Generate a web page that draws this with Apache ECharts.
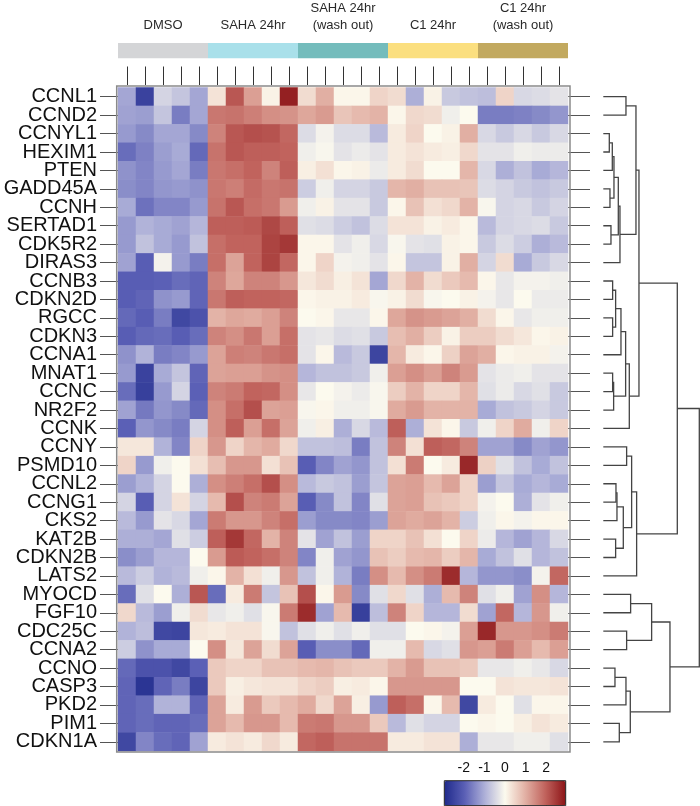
<!DOCTYPE html>
<html><head><meta charset="utf-8">
<script src="https://cdn.jsdelivr.net/npm/echarts@6/dist/echarts.min.js"></script>
<style>html,body{margin:0;padding:0;background:#fff}#c{width:700px;height:806px}</style>
</head><body><div id="c"></div>
<script>
// ---- data ----
const genes = ['CCNL1','CCND2','CCNYL1','HEXIM1','PTEN','GADD45A','CCNH','SERTAD1','CDK5R2','DIRAS3',
  'CCNB3','CDKN2D','RGCC','CDKN3','CCNA1','MNAT1','CCNC','NR2F2','CCNK','CCNY','PSMD10','CCNL2',
  'CCNG1','CKS2','KAT2B','CDKN2B','LATS2','MYOCD','FGF10','CDC25C','CCNA2','CCNO','CASP3','PKD2','PIM1','CDKN1A'];
const groups = ['DMSO','SAHA 24hr','SAHA 24hr\n(wash out)','C1 24hr','C1 24hr\n(wash out)'];
const groupColors = ['#d4d5d7','#a9e0ea','#74bcbc','#fbdf7f','#c2a95f'];
const replicates = ['r1','r2','r3','r4','r5'];
// z-scores per gene (rows) and replicate (5 columns) for each group
const dmso = [
 [-1.1,-2.5,-0.5,-0.7,-1.1],[-1.15,-1.2,-0.7,-1.6,-1.1],[-1.25,-1.45,-1.1,-1.1,-1.45],[-1.8,-1.55,-1.2,-1.05,-1.85],
 [-1.35,-1.5,-1.25,-1.1,-1.6],[-1.4,-1.5,-1.3,-1.25,-1.35],[-1.05,-1.75,-1.5,-1.5,-1.25],[-1.25,-0.95,-1.05,-1.15,-0.9],
 [-1.25,-0.75,-1.05,-1.25,-0.75],[-1.15,-2.0,-0.1,-1.25,-1.6],[-2.0,-2.0,-1.95,-1.8,-1.9],[-2.0,-1.9,-1.35,-1.25,-1.9],
 [-1.85,-2.0,-1.6,-2.4,-2.2],[-2.0,-1.85,-1.8,-2.0,-1.8],[-1.35,-0.95,-1.6,-1.5,-1.25],[-1.25,-2.5,-1.05,-0.7,-1.9],
 [-1.8,-2.55,-1.25,-0.5,-1.95],[-1.15,-1.65,-1.3,-1.45,-1.85],[-1.95,-1.3,-1.45,-1.6,-0.5],[0.25,0.25,-0.95,-1.5,0.5],
 [0.5,-1.25,-0.15,0.0,0.35],[-1.2,-0.95,-0.5,0.0,-1.0],[-0.5,-2.0,-0.5,0.3,-0.5],[-0.85,-1.25,-0.3,-0.45,-1.1],
 [-1.0,-1.0,-1.1,-0.35,-0.6],[-1.4,-1.2,-0.9,-0.9,0.0],[-0.85,-0.6,-0.95,-0.85,-0.15],[-1.8,-0.35,0.0,-1.0,2.1],
 [0.45,-0.85,-1.2,-0.15,0.4],[-0.95,-0.8,-2.4,-2.45,0.25],[-0.6,-1.35,-1.05,-1.05,0.0],[-1.85,-2.2,-2.2,-2.4,-1.95],
 [-1.9,-2.75,-1.9,-1.6,-2.45],[-1.9,-1.8,-0.95,-0.95,-1.9],[-1.9,-1.8,-1.9,-1.9,-1.8],[-2.4,-1.5,-1.8,-1.9,-1.15]];
const saha = [
 [0.3,2.1,1.2,0.1,2.8],[1.7,1.75,1.6,1.4,1.35],[1.55,2.1,2.2,2.15,1.9],[1.75,2.1,2.0,2.0,1.95],
 [1.7,1.8,1.95,1.55,2.0],[1.7,1.6,1.85,1.7,1.75],[1.75,2.1,1.8,1.7,1.25],[2.0,2.0,2.05,2.3,2.0],
 [1.8,1.95,1.95,2.35,2.5],[1.8,1.15,1.95,2.35,1.9],[1.55,1.1,1.55,1.55,1.3],[1.7,2.0,1.95,1.95,1.9],
 [0.95,1.1,1.05,1.2,1.55],[1.55,1.4,1.7,1.2,1.8],[1.15,1.6,1.55,1.7,1.8],[1.15,1.2,1.2,1.35,1.4],
 [1.55,1.65,1.95,1.9,1.4],[1.4,1.8,2.2,1.15,1.2],[1.4,2.0,1.2,1.8,1.15],[1.3,0.5,0.9,1.05,0.45],
 [0.8,1.3,1.3,0.35,0.75],[1.4,1.6,1.8,2.2,1.4],[0.85,2.2,1.55,1.65,1.15],[1.65,1.3,1.3,1.55,1.8],
 [2.0,2.5,1.9,0.95,1.55],[1.25,2.05,1.95,1.8,1.55],[0.05,0.95,0.35,-0.15,1.3],[-1.8,0.2,1.65,-0.7,0.75],
 [-0.25,-0.15,-0.35,-0.05,1.65],[0.2,0.3,0.3,-0.05,-0.75],[1.4,0.25,1.15,0.4,1.15],[0.65,0.5,0.5,0.75,0.75],
 [0.65,0.15,0.25,0.3,0.3],[1.15,0.2,1.25,0.65,0.85],[1.15,0.85,1.3,1.3,0.85],[0.2,0.3,0.2,0.45,0.2]];
const sahaWash = [
 [0.4,1.0,0.05,0.05,0.5],[1.1,1.25,0.7,0.85,0.95],[-0.4,-0.1,-0.4,-0.4,-0.85],[-0.15,-0.05,-0.3,-0.2,-0.3],
 [0.15,0.35,0.05,0.1,-0.2],[-0.6,-0.15,-0.5,-0.5,-0.65],[-0.15,0.1,-0.3,-0.3,-0.65],[-0.35,-0.4,-0.6,-0.75,-0.4],
 [0.05,0.05,-0.3,-0.15,-0.45],[0.05,0.5,-0.1,-0.15,-0.3],[0.25,0.4,0.15,0.3,-1.1],[0.05,0.1,0.1,0.2,-0.05],
 [0.0,0.05,-0.25,-0.25,0.05],[-0.3,-0.25,-0.4,-0.35,-0.65],[-0.3,0.05,-0.85,-0.65,-2.45],[-0.9,-0.75,-0.75,-0.65,-0.15],
 [-0.25,0.0,-0.1,-0.2,-0.05],[-0.05,0.05,-0.15,-0.15,-0.05],[-0.15,0.15,-1.0,-0.45,-0.85],[-0.75,-0.75,-0.8,-1.6,-0.75],
 [-2.0,-1.5,-1.15,-1.3,-0.75],[-0.85,-0.65,-0.75,-1.2,-0.7],[-2.0,-1.45,-0.75,-1.5,-0.35],[-1.2,-1.45,-1.45,-1.5,-1.2],
 [-0.3,-1.15,-0.75,-1.2,0.5],[-1.5,-0.15,-1.15,-1.3,0.75],[-0.75,-0.15,-0.95,-1.6,1.4],[2.2,0.05,1.25,-1.45,-0.35],
 [2.65,-1.15,0.85,-2.55,-0.8],[-0.35,-0.15,-0.35,-0.15,-0.35],[-2.0,-1.4,-1.4,-1.85,-0.15],[0.85,0.9,0.75,0.65,0.65],
 [0.5,0.6,0.15,0.2,0.05],[1.05,0.45,1.15,0.15,-1.25],[1.65,1.7,1.3,1.3,0.65],[1.9,2.0,1.75,1.75,1.75]];
const c1 = [
 [0.4,-1.0,0.1,-0.65,-0.75],[0.05,0.45,0.4,-0.15,0.0],[0.2,0.5,0.0,0.1,1.0],[0.2,0.3,0.2,0.15,0.45],
 [0.2,0.4,0.0,0.0,0.9],[0.9,1.0,0.75,0.75,0.7],[0.05,0.75,0.35,0.45,0.95],[0.3,0.3,0.1,0.2,0.05],
 [-0.05,-0.3,-0.35,0.1,0.05],[0.05,-0.7,-0.7,0.1,1.0],[0.45,0.95,0.4,0.65,0.85],[0.1,0.4,-0.05,0.0,0.1],
 [1.1,1.35,1.25,1.15,1.0],[0.8,1.0,0.6,0.1,0.6],[0.9,0.2,0.05,0.55,1.15],[1.2,1.4,1.2,1.55,1.25],
 [0.6,0.95,0.5,0.5,0.9],[1.05,1.25,0.95,0.95,0.95],[2.0,-1.0,0.3,0.05,-0.65],[1.55,0.35,2.0,1.9,1.55],
 [0.35,1.65,0.0,0.2,2.7],[1.15,1.2,0.85,1.15,0.5],[1.15,1.2,0.75,0.65,0.5],[1.15,1.05,1.15,0.95,-0.6],
 [0.5,0.75,0.35,0.0,0.5],[0.6,0.85,0.9,0.6,0.9],[0.85,1.4,1.65,2.65,-0.9],[0.45,-0.35,-1.0,0.85,1.55],
 [1.55,0.5,-0.9,-0.9,0.4],[-0.35,0.0,0.05,-0.1,1.2],[-0.15,0.85,-0.45,-0.35,1.3],[0.95,1.25,0.75,0.75,0.65],
 [1.3,1.3,1.3,1.3,0.0],[2.0,1.8,0.05,0.85,-2.4],[-0.85,-0.35,-0.5,-0.5,0.0],[0.2,0.2,0.3,0.3,-1.0]];
const c1Wash = [
 [-0.8,0.5,-0.45,-0.4,-0.3],[-1.6,-1.6,-1.55,-1.45,-1.3],[-0.45,-0.65,-0.45,-0.65,-0.45],[-0.3,-0.3,-0.15,-0.2,-0.2],
 [-0.45,-1.0,-0.75,-1.05,-0.9],[-0.4,-0.5,-0.65,-0.75,-0.65],[-0.05,-0.5,-0.45,-0.65,-0.5],[-0.85,-0.5,-0.45,-0.4,-0.65],
 [-0.65,-0.4,-0.6,-1.0,-0.85],[-0.5,0.4,-1.05,-0.65,-0.45],[0.05,-0.25,-0.1,-0.1,-0.15],[-0.1,-0.25,0.0,-0.2,-0.2],
 [0.4,0.05,-0.25,-0.15,-0.15],[0.6,0.4,0.25,0.05,0.1],[1.0,0.05,0.1,0.1,-0.1],[-0.3,-0.2,-0.15,-0.3,-0.3],
 [-0.35,-0.2,-0.45,-0.35,-0.65],[-1.05,-0.75,-0.65,-0.5,-0.65],[-0.15,0.5,1.05,-0.15,0.5],[-1.15,-1.15,-1.45,-1.15,-1.3],
 [0.55,-0.35,-0.75,-1.05,-0.75],[-1.2,-0.7,-1.05,-0.9,-1.05],[-0.1,0.0,-1.0,-0.3,-0.15],[-0.15,0.05,-0.1,0.05,0.05],
 [-0.2,-0.9,-1.15,-0.9,-0.45],[-1.05,-0.75,-0.35,-0.9,-0.75],[-1.3,-1.3,-1.4,-0.1,1.9],[-0.35,-0.15,-1.15,1.4,-0.9],
 [-1.15,1.9,-0.9,1.3,-0.15],[2.7,1.3,1.3,1.4,1.65],[1.2,1.65,1.2,0.85,1.2],[-0.25,-0.25,-0.15,-0.25,-0.45],
 [0.0,0.3,0.25,0.25,0.3],[0.2,0.0,-0.35,0.05,0.05],[0.05,0.0,0.15,0.3,0.2],[-0.25,-0.25,-0.15,-0.15,-0.35]];
// row dendrogram (hclust style: negative = gene row, positive = earlier merge), with merge heights
const merges = [
 [-3,-4,18],[-6,-7,20],[-8,-9,23],[1,-5,27],[4,2,32],[5,3,45],[6,-10,50],[-1,-2,68],[8,7,98],
 [-11,-12,28],[-13,-14,28],[10,11,37],[12,-15,53],[-16,-17,28],[14,-18,31],[13,15,67],[16,-19,78],[9,17,107],
 [-20,-21,70],[-22,-23,38],[20,-24,41],[-25,-26,37],[21,22,60],[19,23,85],[24,-27,100],[18,25,222],
 [-28,-29,82],[-30,-31,70],[27,28,145],[-32,-33,35],[30,-34,68],[-35,-36,48],[31,32,81],[29,33,200],[26,34,288]];
const scaleMin = -2.95, scaleMax = 2.95;
const scaleColors = ['#1f2a8b','#5a5fb5','#aeb0d8','#fcfaee','#e2b0a4','#c0625c','#8c1417'];
const legendTicks = [-2,-1,0,1,2];

// ---- build ----
const groupData = [dmso, saha, sahaWash, c1, c1Wash];
const columns = [];
groups.forEach((g, gi) => replicates.forEach(r => columns.push(g.replace('\n',' ') + ' ' + r)));
const heat = [];
groupData.forEach((arr, gi) => arr.forEach((row, ri) => row.forEach((v, k) => heat.push([gi * 5 + k, ri, v]))));

const nodeY = [], nodeH = [];
const dendro = merges.map((m, i) => {
  const info = c => c < 0 ? [-c - 1, 0] : [nodeY[c - 1], nodeH[c - 1]];
  const a = info(m[0]), b = info(m[1]);
  nodeY[i] = (a[0] + b[0]) / 2; nodeH[i] = m[2];
  return [m[2], a[0], b[0], a[1], b[1]];
});

const FONT = 'Liberation Sans, Arial, sans-serif';
const chart = echarts.init(document.getElementById('c'), null, {renderer: 'canvas'});
chart.setOption({
  animation: false,
  textStyle: {fontFamily: FONT},
  grid: [
    {left: 118, top: 87.5, width: 450, height: 663.5},
    {left: 118, top: 31.7, width: 450, height: 26.6},
    {left: 603.3, top: 87.5, width: 96, height: 663.5},
    {left: 444.3, top: 780.7, width: 121.4, height: 25}
  ],
  xAxis: [
    {gridIndex: 0, type: 'category', data: columns, position: 'top', offset: 2.5,
     axisLine: {show: false}, axisLabel: {show: false, interval: 0}, splitLine: {show: false},
     axisTick: {show: true, interval: 0, alignWithLabel: true, length: 18.5, lineStyle: {color: '#333', width: 1}}},
    {gridIndex: 1, type: 'category', data: groups, position: 'top',
     axisLine: {show: false}, axisTick: {show: false},
     axisLabel: {interval: 0, fontSize: 13, color: '#2a2a2a', margin: 9.5, lineHeight: 16.7, fontFamily: FONT}},
    {gridIndex: 2, type: 'value', min: 0, max: 288, show: false},
    {gridIndex: 3, type: 'value', min: scaleMin, max: scaleMax, position: 'top',
     axisLine: {show: false}, splitLine: {show: false},
     axisTick: {show: true, length: 6, customValues: legendTicks, lineStyle: {color: '#111', width: 1}},
     axisLabel: {customValues: legendTicks, fontSize: 14, color: '#111', margin: 6, formatter: v => String(v)}}
  ],
  yAxis: [
    {gridIndex: 0, type: 'category', data: genes, inverse: true, position: 'left',
     axisLine: {show: false}, splitLine: {show: false},
     axisTick: {show: true, interval: 0, alignWithLabel: true, length: 18, lineStyle: {color: '#555'}},
     axisLabel: {interval: 0, fontSize: 20, color: '#111', margin: 21, fontFamily: FONT}},
    {gridIndex: 0, type: 'category', data: genes, inverse: true, position: 'right',
     axisLine: {show: false}, splitLine: {show: false}, axisLabel: {show: false, interval: 0},
     axisTick: {show: true, interval: 0, alignWithLabel: true, length: 22, lineStyle: {color: '#555'}}},
    {gridIndex: 1, type: 'value', min: 0, max: 1, show: false},
    {gridIndex: 2, type: 'value', min: -0.5, max: genes.length - 0.5, inverse: true, show: false},
    {gridIndex: 3, type: 'value', min: 0, max: 1, show: false}
  ],
  visualMap: {
    type: 'continuous', seriesIndex: 0, min: scaleMin, max: scaleMax, dimension: 2,
    orient: 'horizontal', left: 444.3, top: 780.7, itemWidth: 25, itemHeight: 121.4,
    calculable: false, realtime: false, text: null, showLabel: false, padding: 0,
    inRange: {color: scaleColors}, hoverLink: false
  },
  series: [
    {type: 'heatmap', xAxisIndex: 0, yAxisIndex: 0, data: heat, progressive: 0,
     itemStyle: {borderWidth: 0}, emphasis: {disabled: true}},
    {type: 'bar', xAxisIndex: 1, yAxisIndex: 2, barWidth: '100%', barCategoryGap: 0,
     data: groups.map((g, i) => ({value: 1, itemStyle: {color: groupColors[i]}})), silent: true},
    {type: 'custom', xAxisIndex: 2, yAxisIndex: 3, data: dendro, silent: true, clip: false,
     encode: {x: [0, 3, 4], y: [1, 2]},
     renderItem: (params, api) => {
       const h = api.value(0), ya = api.value(1), yb = api.value(2), ha = api.value(3), hb = api.value(4);
       return {type: 'polyline',
         shape: {points: [api.coord([ha, ya]), api.coord([h, ya]), api.coord([h, yb]), api.coord([hb, yb])]},
         style: {stroke: '#444', lineWidth: 1.3, fill: null}};
     }}
  ],
  graphic: [
    {type: 'rect', z: 100, shape: {x: 116.7, y: 86, width: 453.3, height: 666},
     style: {fill: null, stroke: '#8a8a8a', lineWidth: 1.5}},
    {type: 'rect', z: 100, shape: {x: 444.3, y: 780.7, width: 121.4, height: 25},
     style: {fill: null, stroke: '#222', lineWidth: 1}}
  ]
});
</script></body></html>
